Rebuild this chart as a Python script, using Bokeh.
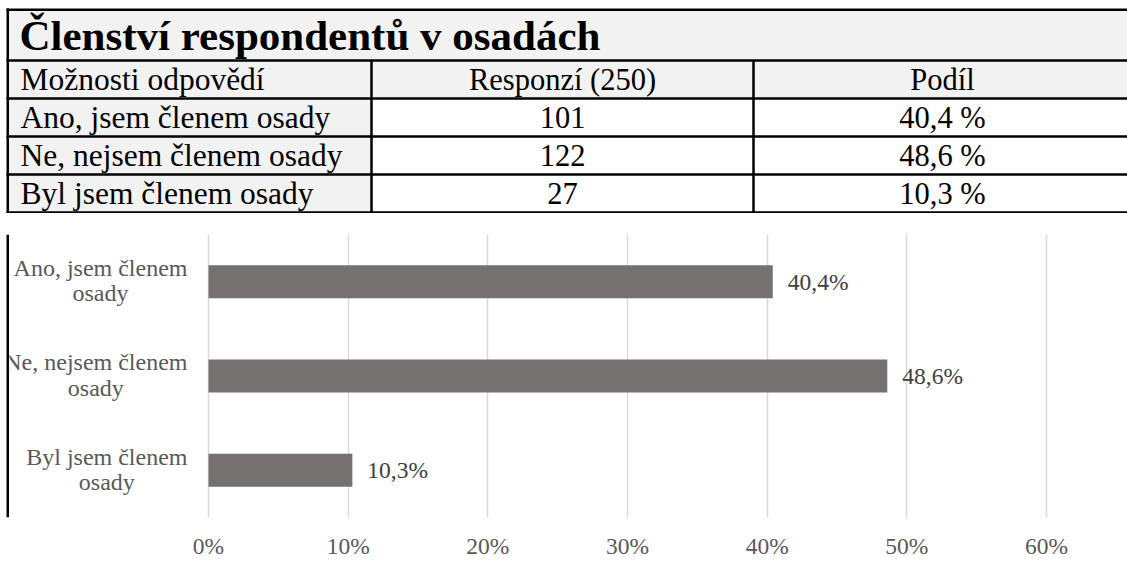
from bokeh.plotting import figure
from bokeh.models import Range1d, FactorRange, FixedTicker, PrintfTickFormatter, ColumnDataSource
from bokeh.layouts import column, row
from bokeh.core.properties import value
from bokeh.embed import file_html
from bokeh.resources import INLINE

# ---------------- data ----------------
title_text = "Členství respondentů v osadách"
header = ["Možnosti odpovědí", "Responzí (250)", "Podíl"]
options = ["Ano, jsem členem osady", "Ne, nejsem členem osady", "Byl jsem členem osady"]
responses = [101, 122, 27]
shares = [40.4, 48.6, 10.3]
chart_labels = ["Ano, jsem členem\nosady", "Ne, nejsem členem\nosady", "Byl jsem členem\nosady"]
x_ticks = [0, 10, 20, 30, 40, 50, 60]

# ---------------- styles ----------------
FONT = value("Liberation Serif")
GRAY_BG = "#f2f2f2"
BAR = "#757171"
TXT = "#595959"
W, H = 1127, 569

# ---------------- table (page-pixel coordinates) ----------------
TABLE_H = 213
row_lines = [9.25, 60, 98, 136, 174, 212]
col_seps = [371, 753]
col_text_x = [20, 562, 942]
col_align = ["left", "center", "center"]
col_size = ["31.5px", "30.5px", "30.5px"]
BORDER_X = 7.25
TITLE_SIZE = 43

t = figure(width=W, height=TABLE_H,
           x_range=Range1d(0, W), y_range=Range1d(TABLE_H, 0),
           output_backend="svg", toolbar_location=None, min_border=0,
           x_axis_location=None, y_axis_location=None)
t.outline_line_color = None
t.grid.visible = False

# backgrounds
t.quad(left=[BORDER_X, BORDER_X], right=[W, col_seps[0]],
       top=[row_lines[0], row_lines[2]], bottom=[row_lines[2], row_lines[-1]],
       fill_color=GRAY_BG, line_color=None)
# borders
t.segment(x0=[BORDER_X - 1.25] * len(row_lines), x1=[W] * len(row_lines),
          y0=row_lines, y1=row_lines, line_color="black", line_width=2.5)
t.segment(x0=[BORDER_X] + col_seps, x1=[BORDER_X] + col_seps,
          y0=[row_lines[0] - 1.25, row_lines[1], row_lines[1]],
          y1=[TABLE_H, row_lines[-1], row_lines[-1]],
          line_color="black", line_width=2.5)

# title (vertically centred in its row)
t.text(x=[19], y=[(row_lines[0] + row_lines[1]) / 2], text=[title_text], text_font=FONT,
       text_font_size=f"{TITLE_SIZE}px", text_font_style="bold", text_color="black",
       text_baseline="middle", text_align="left")

# header + body cells (vertically centred in their rows)
cells = {"x": [], "y": [], "text": [], "align": [], "size": []}
body = [header] + [[o, str(r), f"{s:.1f}".replace(".", ",") + " %"]
                   for o, r, s in zip(options, responses, shares)]
for i, rowvals in enumerate(body):
    mid = (row_lines[i + 1] + row_lines[i + 2]) / 2
    for j, v in enumerate(rowvals):
        cells["x"].append(col_text_x[j])
        cells["y"].append(mid)
        cells["text"].append(v)
        cells["align"].append(col_align[j])
        cells["size"].append(col_size[j])
t.text(x="x", y="y", text="text", text_align="align", text_font_size="size",
       source=ColumnDataSource(cells),
       text_font=FONT, text_color="black", text_baseline="middle")

# ---------------- left border strip beside the chart ----------------
STRIP_W = 9
CH_H = H - TABLE_H
strip = figure(width=STRIP_W, height=CH_H, x_range=Range1d(0, STRIP_W), y_range=Range1d(0, 1),
               output_backend="svg", toolbar_location=None, min_border=0,
               x_axis_location=None, y_axis_location=None)
strip.outline_line_color = None
strip.grid.visible = False
strip.quad(left=[BORDER_X - 1.25], right=[BORDER_X + 1.25], bottom=[0], top=[1],
           fill_color="black", line_color=None)

# ---------------- bar chart ----------------
PX_PER_PCT = 13.967
ZERO_X = 208
p = figure(width=W - STRIP_W, height=CH_H,
           y_range=FactorRange(factors=list(reversed(options)), range_padding=0),
           x_range=Range1d((STRIP_W - ZERO_X) / PX_PER_PCT, (W - ZERO_X) / PX_PER_PCT),
           output_backend="svg", toolbar_location=None, y_axis_location=None,
           min_border_left=0, min_border_right=0, min_border_top=234 - TABLE_H,
           min_border_bottom=H - 517)
p.outline_line_color = None
p.ygrid.grid_line_color = None
p.xgrid.grid_line_color = "#d9d9d9"
p.xgrid.grid_line_width = 1.5

p.hbar(y=options, left=0, right=shares, height=0.35, fill_color=BAR, line_color=None)

p.text(x=[0] * len(options), y=options, text=chart_labels, x_offset=-21, y_offset=-1,
       anchor="center_right", text_align="center", text_baseline="middle",
       text_line_height=0.97, text_font=FONT, text_font_size="24px", text_color=TXT)

p.text(x=shares, y=options, text=[f"{s:.1f}".replace(".", ",") + "%" for s in shares],
       x_offset=15, text_align="left", text_baseline="middle",
       text_font=FONT, text_font_size="23.5px", text_color="#404040")

p.xaxis.ticker = FixedTicker(ticks=x_ticks)
p.xaxis.formatter = PrintfTickFormatter(format="%d%%")
p.xaxis.axis_line_color = None
p.xaxis.major_tick_line_color = None
p.xaxis.minor_tick_line_color = None
p.xaxis.major_label_standoff = 9
p.xaxis.major_label_text_font = "Liberation Serif"
p.xaxis.major_label_text_font_size = "23.5px"
p.xaxis.major_label_text_color = TXT

layout = column(t, row(strip, p))
open("out.html", "w").write(file_html(layout, INLINE))
